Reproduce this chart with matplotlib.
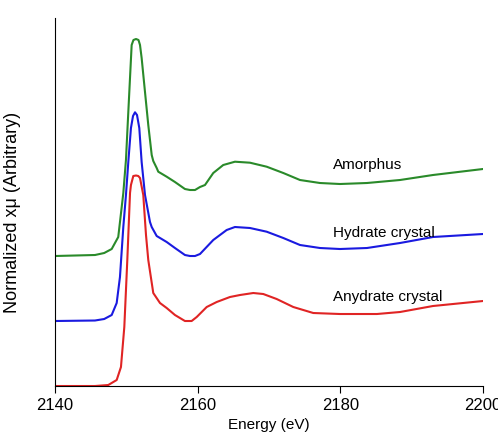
import matplotlib.pyplot as plt

plt.rcParams['font.family'] = ['Liberation Sans', 'DejaVu Sans']

# energies (eV) and offset normalized intensities (arbitrary units)
e_anhydrate = [2140.00, 2145.61, 2147.47, 2148.65, 2149.25, 2149.72, 2150.14, 2150.52,
               2150.65, 2150.98, 2151.36, 2151.68, 2151.92, 2152.38, 2152.52, 2152.76,
               2153.08, 2153.78, 2154.72, 2155.66, 2156.82, 2158.22, 2159.16, 2159.87,
               2161.27, 2162.67, 2164.53, 2165.94, 2167.80, 2169.20, 2171.08, 2173.41,
               2176.21, 2179.95, 2185.14, 2188.37, 2192.99, 2200.00]
mu_anhydrate = [0, 0, 1, 6, 19, 59, 126, 193, 201, 210, 210.5, 210, 208, 191, 176, 151,
                126, 93, 83, 78, 71, 65, 65, 69, 79, 84, 89, 91, 93, 92, 87, 79, 73, 72,
                72, 74, 80, 85]

e_hydrate = [2140.00, 2145.61, 2146.90, 2147.95, 2148.65, 2149.11, 2149.58, 2149.95,
             2150.28, 2150.65, 2150.94, 2151.22, 2151.50, 2151.82, 2152.15, 2152.62,
             2153.32, 2153.56, 2154.26, 2155.66, 2156.82, 2158.22, 2158.93, 2159.63,
             2160.33, 2162.19, 2164.07, 2165.23, 2167.34, 2169.68, 2172.01, 2174.35,
             2177.15, 2179.95, 2183.74, 2188.37, 2192.99, 2200.00]
mu_hydrate = [65, 65.5, 67, 71, 83, 109, 159, 191, 224, 258, 270, 273.7, 271, 258, 224,
              191, 164, 159, 150, 144, 138, 131, 130, 130, 132, 146, 156, 159, 158,
              154.3, 148, 141, 138, 137, 138, 143, 149, 152]

e_amorphous = [2140.00, 2145.61, 2146.90, 2147.95, 2148.87, 2149.58, 2149.95, 2150.19,
               2150.42, 2150.75, 2151.00, 2151.36, 2151.71, 2151.92, 2152.15, 2152.62,
               2153.08, 2153.56, 2153.78, 2154.26, 2154.48, 2155.66, 2156.82, 2158.22,
               2158.93, 2159.63, 2160.33, 2161.03, 2162.19, 2163.59, 2165.23, 2167.34,
               2169.68, 2172.01, 2174.35, 2177.15, 2179.95, 2183.74, 2188.37, 2192.99,
               2200.00]
mu_amorphous = [130, 131, 133, 137, 149, 193, 226, 261, 294, 341, 346, 347, 346, 341,
                328, 294, 261, 231, 225, 218, 214.3, 209.3, 204, 197, 196, 196, 199, 201,
                213, 221, 224.3, 223.3, 219.3, 213, 206, 203, 202, 203, 206, 211, 217]

labels = ["Amorphus", "Hydrate crystal", "Anydrate crystal"]
label_y = [221, 153, 89]

fig = plt.figure(figsize=(4.98, 4.38), dpi=100)
ax = fig.add_axes([0.1104, 0.1187, 0.8594, 0.8402])

style = dict(lw=1.5, solid_joinstyle="round", solid_capstyle="round")
ax.plot(e_amorphous, mu_amorphous, color="#2a8a2a", **style)
ax.plot(e_hydrate, mu_hydrate, color="#1a1ae0", **style)
ax.plot(e_anhydrate, mu_anhydrate, color="#e02424", **style)

for txt, y in zip(labels, label_y):
    ax.text(2179, y, txt, fontsize=11, va="center", ha="left")

ax.set_xlim(2140, 2200)
ax.set_ylim(0, 368)
ax.set_xticks([2140, 2160, 2180, 2200])
ax.set_yticks([])
ax.tick_params(axis="x", labelsize=12, direction="out", length=5)
ax.spines["top"].set_visible(False)
ax.spines["right"].set_visible(False)
ax.set_xlabel("Energy (eV)", fontsize=11)
ax.set_ylabel("Normalized xμ (Arbitrary)", fontsize=13)
ax.yaxis.set_label_coords(-0.079, 0.473)

fig.savefig("out.png", dpi=100)
